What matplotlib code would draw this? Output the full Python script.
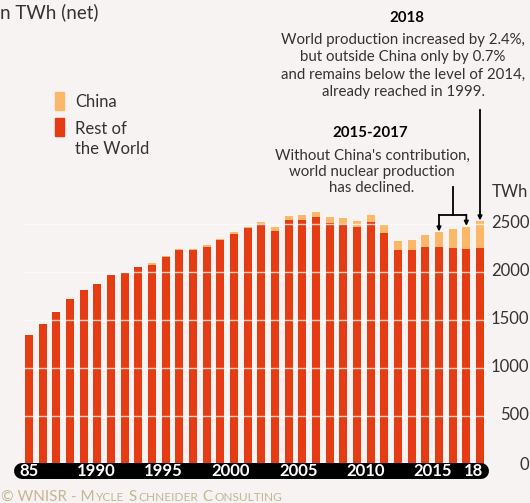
import matplotlib
matplotlib.use("Agg")
import matplotlib.pyplot as plt
from matplotlib.patches import Rectangle
from matplotlib.transforms import offset_copy

# data (TWh, net)
years = list(range(1985, 2019))
rest_of_world = [1350, 1461, 1586, 1721, 1815, 1877, 1971, 1988, 2054, 2078,
                 2158, 2231, 2231, 2265, 2335, 2397, 2455, 2501, 2430, 2540,
                 2548, 2574, 2515, 2498, 2466, 2524, 2409, 2231, 2230, 2263,
                 2257, 2251, 2240, 2256]
china = [0, 0, 0, 0, 0, 0, 1, 3, 2, 13,
         12, 13, 14, 13, 14, 16, 17, 24, 41, 48,
         50, 52, 59, 65, 66, 71, 82, 93, 105, 124,
         161, 198, 232, 277]
y_ticks = [0, 500, 1000, 1500, 2000, 2500]
x_labels = {1985: "85", 1990: "1990", 1995: "1995", 2000: "2000",
            2005: "2005", 2010: "2010", 2015: "2015", 2018: "18"}

RED = "#E53C14"
ORANGE = "#FBB868"
BG = "#F7F3F2"
TXT = "#333333"

plt.rcParams["font.family"] = ["Lato", "DejaVu Sans"]

W, H = 530, 503
fig = plt.figure(figsize=(W / 100, H / 100), dpi=100, facecolor=BG)
ax = fig.add_axes([0, 0, 1, 1])
ax.set_facecolor(BG)
ax.axis("off")

# axes fill the figure; pick limits so the bars land where they do in the original
px_per_year = 451 / 33
twh_per_px = 10.4
ax.set_xlim(1985 - 29 / px_per_year, 1985 + (W - 29) / px_per_year)
ax.set_ylim(-(H - 464.5) * twh_per_px, 464.5 * twh_per_px)


def fx(px):
    return px / W


def fy(py):
    return 1 - py / H


ax.bar(years, rest_of_world, width=0.6, color=RED, zorder=2)
ax.bar(years, china, bottom=rest_of_world, width=0.6, color=ORANGE, zorder=2)

# white grid lines over the bars
for v in y_ticks[1:]:
    ax.plot([1984.6, 2018.4], [v, v], color="white", lw=1.0, alpha=0.75, zorder=3)

# y tick labels on the right
for v in y_ticks:
    ax.text(2021.62, v + (15 if v else 0), str(v), ha="right", va="center",
            fontsize=12, color=TXT)
fig.text(fx(492), fy(192), "TWh", ha="left", va="center", fontsize=12, color=TXT)

# black rounded x axis bar
ax.plot([1984.5, 2018.05], [-67, -67], color="black", lw=11.5,
        solid_capstyle="round", zorder=4)
for yr, lab in x_labels.items():
    shift = -0.5 * (yr - 1985) / 33
    ax.text(yr + shift, -67, lab, ha="center", va="center", fontsize=12,
            fontweight="bold", color="white", zorder=5)

# title fragment
fig.text(fx(0), fy(12), "n TWh (net)", ha="left", va="center", fontsize=13.5,
         color=TXT)

# credit line in small caps: big capitals, small upper-case for the rest
credit = [("© WNISR - M", 11), ("YCLE", 8.6), (" S", 11), ("CHNEIDER", 8.6),
          (" C", 11), ("ONSULTING", 8.6)]
renderer = fig.canvas.get_renderer()
x_off = 0
for piece, size in credit:
    tr = offset_copy(fig.transFigure, fig=fig, x=x_off, y=0, units="dots")
    t = fig.text(fx(1), fy(501), piece, ha="left", va="baseline", fontsize=size,
                 color="#C6B493", transform=tr)
    x_off += t.get_window_extent(renderer).width + 1

# legend
fig.add_artist(Rectangle((fx(55), fy(110)), 9 / W, 18 / H, color=ORANGE,
                         transform=fig.transFigure))
fig.add_artist(Rectangle((fx(55), fy(136)), 9 / W, 18 / H, color=RED,
                         transform=fig.transFigure))
fig.text(fx(75), fy(102), "China", ha="left", va="center", fontsize=12, color=TXT)
fig.text(fx(75), fy(139), "Rest of\nthe World", ha="left", va="center",
         fontsize=12, color=TXT, linespacing=1.35)

# annotations
fig.text(fx(407), fy(18), "2018", ha="center", va="center", fontsize=10.8,
         fontweight="bold", color="black")
fig.text(fx(403), fy(66),
         "World production increased by 2.4%,\nbut outside China only by 0.7%\n"
         "and remains below the level of 2014,\nalready reached in 1999.",
         ha="center", va="center", fontsize=10.8, color=TXT, linespacing=1.28)
fig.text(fx(370), fy(133), "2015-2017", ha="center", va="center", fontsize=10.8,
         fontweight="bold", color="black")
fig.text(fx(372), fy(172),
         "Without China's contribution,\nworld nuclear production\nhas declined.",
         ha="center", va="center", fontsize=10.8, color=TXT, linespacing=1.2)

top = [r + c for r, c in zip(rest_of_world, china)]
arrow = dict(arrowstyle="-|>", lw=1.3, color="black", mutation_scale=6,
             shrinkA=0, shrinkB=0)
bracket_y = 2598
ax.plot([2015, 2017], [bracket_y, bracket_y], color="black", lw=1.3, zorder=4)
ax.plot([2016, 2016], [bracket_y, 2886], color="black", lw=1.3, zorder=4)
ax.annotate("", xy=(2015, top[years.index(2015)] + 5), xytext=(2015, bracket_y),
            arrowprops=arrow)
ax.annotate("", xy=(2017, top[years.index(2017)] + 10), xytext=(2017, bracket_y),
            arrowprops=arrow)
ax.annotate("", xy=(2018, top[years.index(2018)] + 5), xytext=(2018, 3690),
            arrowprops=arrow)

fig.savefig("out.png", dpi=100, facecolor=BG)
